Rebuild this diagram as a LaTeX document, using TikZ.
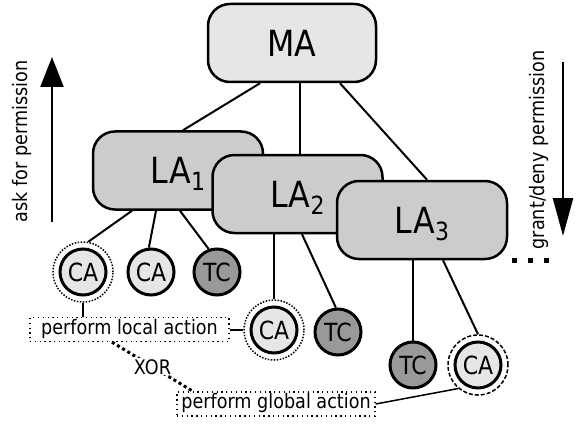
\documentclass[tikz,border=0pt]{standalone}
\usepackage{fontspec}
\setmainfont{DejaVu Sans}[FakeStretch=0.88]
\usetikzlibrary{arrows.meta,calc}
\definecolor{lightg}{HTML}{E6E6E6}
\definecolor{midg}{HTML}{CCCCCC}
\definecolor{darkg}{HTML}{999999}
\newcommand{\lasub}[1]{LA\raisebox{-7pt}[0pt][0pt]{\fontsize{25}{25}\selectfont #1}}
\begin{document}
\begin{tikzpicture}[x=1pt,y=-1pt,
  agentbox/.style={draw=black, line width=2.5pt, rounded corners=22pt, minimum width=170pt, minimum height=78pt, inner sep=0pt},
  ma/.style={agentbox, fill=lightg, minimum width=168pt, font=\fontsize{36}{36}\selectfont},
  la/.style={agentbox, fill=midg, font=\fontsize{36}{36}\selectfont},
  agent/.style={circle, draw=black, line width=3pt, minimum size=46pt, inner sep=0pt, font=\fontsize{25}{25}\selectfont},
  ca/.style={agent, fill=lightg},
  tc/.style={agent, fill=darkg},
  dotring/.style={circle, draw=black, line width=1.5pt, dash pattern=on 1.5pt off 1.5pt, minimum size=60pt, inner sep=0pt},
  dashring/.style={circle, draw=black, line width=1.5pt, dash pattern=on 4pt off 2pt, minimum size=60pt, inner sep=0pt},
  action/.style={draw=black, line width=1.3pt, dash pattern=on 1.3pt off 3.5pt, inner xsep=0pt, inner ysep=2.5pt, text height=14pt, text depth=5pt, font=\fontsize{20}{20}\selectfont},
  link/.style={line width=2pt},
  lbl/.style={font=\fontsize{20}{20}\selectfont},
  uparrow/.style={line width=2.5pt, -{Triangle[length=30pt,width=23pt]}},
  downarrow/.style={line width=2.5pt, -{Triangle[length=38pt,width=20pt]}}
]
\useasboundingbox (0,0) rectangle (578,425);

% agents
\node[ma] (MA) at (292,43) {MA};
\node[la] (LA1) at (178,170.5) {\lasub{1}};
\node[la] (LA2) at (297.5,194) {\lasub{2}};
\node[la] (LA3) at (422,220) {\lasub{3}};

\node[dotring] (CA1r) at (83,272) {};
\node[ca] (CA1) at (83,272) {CA};
\node[ca] (CA2) at (151,272) {CA};
\node[tc] (TC1) at (217,272) {TC};

\node[dotring] (CA3r) at (274,330) {};
\node[ca] (CA3) at (274,330) {CA};
\node[tc] (TC2) at (338,332) {TC};

\node[tc] (TC3) at (413,365) {TC};
\node[dashring] (CA4r) at (478,365) {};
\node[ca] (CA4) at (478,365) {CA};

\node[action, minimum width=199pt] (local) at (129.5,329.5) {perform local action};
\node[action, minimum width=198pt] (global) at (276,404) {perform global action};

% hierarchy links
\draw[link] ($(MA.south)+(-32,0)$) -- ($(LA1.north)+(5,0)$);
\draw[link] ($(MA.south)+(8,0)$) -- ($(LA2.north)+(2.5,0)$);
\draw[link] ($(MA.south)+(48,0)$) -- ($(LA3.north)+(5,0)$);

\draw[link] ($(LA1.south)+(-46,0)$) -- (CA1r.80);
\draw[link] ($(LA1.south)+(-22,0)$) -- (CA2.95);
\draw[link] ($(LA1.south)+(2,0)$) -- (TC1.110);

\draw[link] (CA3r.north) -- (CA3r.north |- LA2.south);
\draw[link] ($(LA2.south)+(4.5,0)$) -- (TC2.95);

\draw[link] (TC3.north) -- (TC3.north |- LA3.south);
\draw[link] ($(LA3.south)+(21,0)$) -- (CA4r.north);

% action links
\draw[link, line width=1.5pt] (CA1r.south) -- (CA1r.south |- local.north);
\draw[link, line width=1.5pt] (CA3r.west) -- (CA3r.west -| local.east);
\draw[link, line width=1.5pt] (global.east) -- (CA4r.230);

\draw[line width=3pt, dash pattern=on 3pt off 3pt] ($(local.south)+(-17.5,0)$) -- node[lbl, fill=white, inner sep=1pt] (xor) {XOR} ($(global.north)+(-83,0)$);

% continuation dots
\fill (511.5,257.5) rectangle +(5,5);
\fill (528,257.5) rectangle +(5,5);
\fill (543.5,257.5) rectangle +(5,5);

% direction arrows
\coordinate (upS) at (52,222);
\coordinate (upE) at (52,57);
\draw[uparrow] (upS) -- (upE);
\node[lbl, rotate=90] (ask) at (22,141.5) {ask for permission};
\coordinate (dnS) at (563,62);
\coordinate (dnE) at (563,236);
\draw[downarrow] (dnS) -- (dnE);
\node[lbl, rotate=90] (grant) at (539,150) {grant/deny permission};
\end{tikzpicture}
\end{document}
